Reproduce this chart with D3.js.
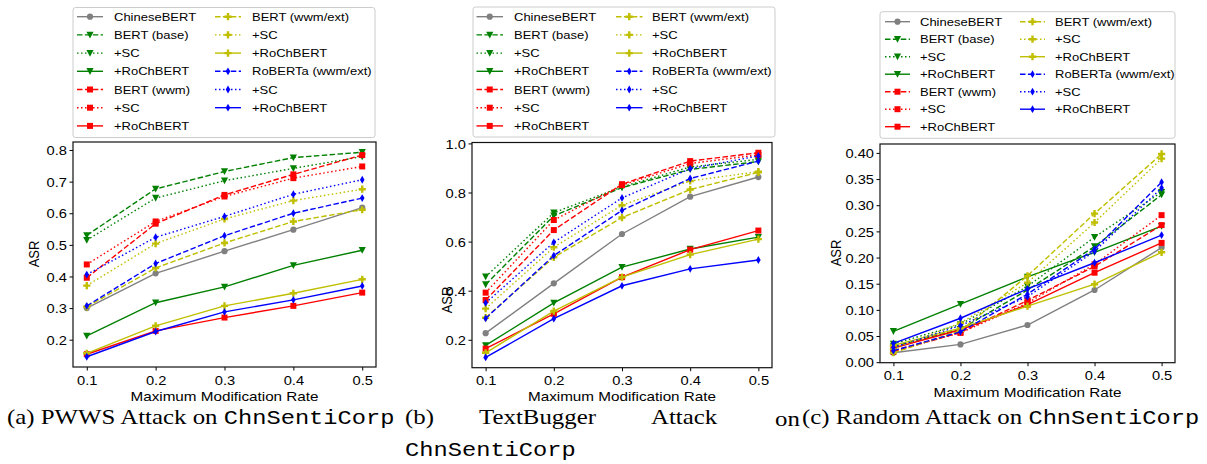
<!DOCTYPE html>
<html>
<head>
<meta charset="utf-8">
<script src="https://cdn.jsdelivr.net/npm/d3@7"></script>
<style>
  body { margin: 0; background: #fff; }
  svg { display: block; }
</style>
</head>
<body>
<svg id="chart" width="1207" height="464"></svg>
<script>
// modification rates on the x axis
var rates = [0.1, 0.2, 0.3, 0.4, 0.5];
var rateTicks = ["0.1", "0.2", "0.3", "0.4", "0.5"];

// legend entries, same order as the rows in the ASR arrays below
var seriesNames = ["ChineseBERT", "BERT (base)", "+SC", "+RoChBERT", "BERT (wwm)", "+SC", "+RoChBERT",
                   "BERT (wwm/ext)", "+SC", "+RoChBERT", "RoBERTa (wwm/ext)", "+SC", "+RoChBERT"];
var seriesColors = ["#808080", "#008000", "#008000", "#008000", "#ff0000", "#ff0000", "#ff0000",
                    "#bfbf00", "#bfbf00", "#bfbf00", "#0000ff", "#0000ff", "#0000ff"];
var seriesMarkers = ["o", "v", "v", "v", "s", "s", "s", "P", "P", "P", "d", "d", "d"];
var seriesDashes = ["solid", "dashed", "dotted", "solid", "dashed", "dotted", "solid",
                    "dashed", "dotted", "solid", "dashed", "dotted", "solid"];

// (a) PWWS attack
var pwwsASR = [
  [0.300, 0.410, 0.480, 0.548, 0.618],
  [0.530, 0.677, 0.732, 0.776, 0.793],
  [0.515, 0.648, 0.703, 0.742, 0.779],
  [0.212, 0.317, 0.367, 0.435, 0.483],
  [0.396, 0.567, 0.658, 0.723, 0.784],
  [0.438, 0.574, 0.653, 0.711, 0.748],
  [0.154, 0.228, 0.270, 0.307, 0.349],
  [0.304, 0.427, 0.506, 0.574, 0.611],
  [0.371, 0.504, 0.582, 0.640, 0.676],
  [0.157, 0.244, 0.307, 0.347, 0.391],
  [0.307, 0.441, 0.529, 0.600, 0.648],
  [0.406, 0.524, 0.590, 0.660, 0.706],
  [0.146, 0.226, 0.288, 0.326, 0.370]
];
var pwwsTicks = [0.2, 0.3, 0.4, 0.5, 0.6, 0.7, 0.8];

// (b) TextBugger attack
var textbuggerASR = [
  [0.227, 0.430, 0.631, 0.783, 0.863],
  [0.425, 0.705, 0.820, 0.894, 0.926],
  [0.457, 0.718, 0.823, 0.904, 0.935],
  [0.177, 0.350, 0.496, 0.570, 0.618],
  [0.362, 0.647, 0.834, 0.928, 0.962],
  [0.392, 0.688, 0.830, 0.918, 0.953],
  [0.164, 0.306, 0.455, 0.567, 0.645],
  [0.290, 0.536, 0.698, 0.812, 0.882],
  [0.327, 0.577, 0.748, 0.847, 0.885],
  [0.147, 0.317, 0.455, 0.547, 0.610],
  [0.287, 0.543, 0.727, 0.857, 0.928],
  [0.350, 0.597, 0.778, 0.897, 0.949],
  [0.128, 0.286, 0.420, 0.489, 0.525]
];
var textbuggerTicks = [0.2, 0.4, 0.6, 0.8, 1.0];

// (c) random attack
var randomASR = [
  [0.018, 0.034, 0.071, 0.138, 0.219],
  [0.030, 0.063, 0.138, 0.221, 0.320],
  [0.035, 0.072, 0.145, 0.239, 0.325],
  [0.059, 0.111, 0.163, 0.210, 0.260],
  [0.020, 0.057, 0.118, 0.183, 0.262],
  [0.022, 0.056, 0.113, 0.187, 0.281],
  [0.027, 0.062, 0.110, 0.171, 0.228],
  [0.018, 0.060, 0.165, 0.284, 0.398],
  [0.025, 0.075, 0.152, 0.267, 0.389],
  [0.032, 0.065, 0.107, 0.149, 0.210],
  [0.022, 0.058, 0.130, 0.216, 0.344],
  [0.028, 0.070, 0.125, 0.212, 0.333],
  [0.036, 0.084, 0.140, 0.190, 0.243]
];
var randomTicks = [0.00, 0.05, 0.10, 0.15, 0.20, 0.25, 0.30, 0.35, 0.40];

var SX = 1.13;  // the figure is a bit stretched sideways
var sans = "'Liberation Sans', Arial, sans-serif";

var panels = [
  {data: pwwsASR, ticks: pwwsTicks, fmt: ".1f", left: 73, right: 376, top: 142, bottom: 367,
   ylabX: 34, ylabY: 254, xlabY: 401,
   leg: {x: 73, w: 302, top: 7.5, h: 130, row0: 16.7, dy: 18.2, h0: 4, h1: 30, t0: 41, c2: 142, t2: 179}},
  {data: textbuggerASR, ticks: textbuggerTicks, fmt: ".1f", left: 472, right: 772, top: 142.5, bottom: 367.7,
   ylabX: 447, ylabY: 300, xlabY: 401,
   leg: {x: 473, w: 302, top: 7, h: 130, row0: 16.7, dy: 18.2, h0: 3.5, h1: 30, t0: 41, c2: 143, t2: 179}},
  {data: randomASR, ticks: randomTicks, fmt: ".2f", left: 880, right: 1175, top: 144, bottom: 362.7,
   ylabX: 836, ylabY: 253, xlabY: 397,
   leg: {x: 880, w: 295, top: 11.7, h: 126.6, row0: 21.7, dy: 17.5, h0: 5, h1: 30, t0: 40, c2: 140, t2: 175}}
];

var svg = d3.select("#chart");

function dashFor(style) {
  if (style == "dashed") return "5.5,2.4";
  if (style == "dotted") return "1.5,2.5";
  return null;
}

function markerPath(m) {
  if (m == "o") return d3.symbol(d3.symbolCircle, 30)();
  if (m == "s") return "M-3,-3H3V3H-3Z";
  if (m == "v") return "M0,3.6L-3.6,-3.2L3.6,-3.2Z";
  if (m == "P") return "M-1.2,-3.6H1.2V-1.2H3.6V1.2H1.2V3.6H-1.2V1.2H-3.6V-1.2H-1.2Z";
  if (m == "d") return "M0,-3.9L2.3,0L0,3.9L-2.3,0Z";
}

// place a text stretched by SX around its anchor point
function stretched(g, x, y, str) {
  return g.append("text")
      .attr("transform", "translate(" + x + "," + y + ") scale(" + SX + ",1)")
      .text(str);
}

panels.forEach(function(p) {
  var all = d3.merge(p.data);
  var lo = d3.min(all), hi = d3.max(all), pad = (hi - lo) * 0.05;

  var x = d3.scaleLinear().domain([0.08, 0.52]).range([p.left, p.right]);
  var y = d3.scaleLinear().domain([lo - pad, hi + pad]).range([p.bottom, p.top]);

  var g = svg.append("g");

  // lines and markers
  p.data.forEach(function(vals, i) {
    var pts = vals.map(function(v, j) { return [rates[j], v]; });
    var line = d3.line().x(function(d) { return x(d[0]); }).y(function(d) { return y(d[1]); });
    g.append("path")
        .attr("d", line(pts))
        .attr("fill", "none")
        .attr("stroke", seriesColors[i])
        .attr("stroke-width", 1.4)
        .attr("stroke-dasharray", dashFor(seriesDashes[i]));
    g.selectAll(null)
      .data(pts)
      .join("path")
        .attr("transform", function(d) { return "translate(" + x(d[0]) + "," + y(d[1]) + ")"; })
        .attr("d", markerPath(seriesMarkers[i]))
        .attr("fill", seriesColors[i]);
  });

  // axes
  var xa = g.append("g")
      .attr("transform", "translate(0," + p.bottom + ")")
      .call(d3.axisBottom(x).tickValues(rates).tickFormat(function(d, j) { return rateTicks[j]; })
            .tickSize(3.5).tickPadding(5));
  var ya = g.append("g")
      .attr("transform", "translate(" + p.left + ",0)")
      .call(d3.axisLeft(y).tickValues(p.ticks).tickFormat(d3.format(p.fmt)).tickSize(3.5).tickPadding(1.8));
  [xa, ya].forEach(function(a) {
    a.select(".domain").remove();
    a.selectAll("line").attr("stroke", "#000").attr("stroke-width", 1);
    a.selectAll("text")
        .attr("font-family", sans)
        .attr("font-size", 13)
        .attr("fill", "#000")
        .attr("transform", "scale(" + SX + ",1)");
  });
  ya.selectAll("text").attr("dy", "0.36em");

  g.append("rect")
      .attr("x", p.left).attr("y", p.top)
      .attr("width", p.right - p.left).attr("height", p.bottom - p.top)
      .attr("fill", "none").attr("stroke", "#111").attr("stroke-width", 1.2);

  stretched(g, (p.left + p.right) / 2, p.xlabY, "Maximum Modification Rate")
      .attr("text-anchor", "middle")
      .attr("font-family", sans)
      .attr("font-size", 13.5);

  g.append("text")
      .attr("transform", "translate(" + p.ylabX + "," + p.ylabY + ") rotate(-90) scale(1," + SX + ")")
      .attr("text-anchor", "middle")
      .attr("dy", "0.36em")
      .attr("font-family", sans)
      .attr("font-size", 13)
      .text("ASR");

  // legend, two columns filled top to bottom
  var L = p.leg;
  var lg = svg.append("g");
  lg.append("rect")
      .attr("x", L.x).attr("y", L.top).attr("width", L.w).attr("height", L.h)
      .attr("rx", 2.5)
      .attr("fill", "#fff").attr("fill-opacity", 0.8)
      .attr("stroke", "#cccccc").attr("stroke-width", 1);
  seriesNames.forEach(function(name, i) {
    var col = i < 7 ? 0 : 1, row = i < 7 ? i : i - 7;
    var ry = L.row0 + row * L.dy;
    var hx0 = L.x + (col ? L.c2 : L.h0), hx1 = hx0 + (L.h1 - L.h0);
    lg.append("line")
        .attr("x1", hx0).attr("x2", hx1).attr("y1", ry).attr("y2", ry)
        .attr("stroke", seriesColors[i]).attr("stroke-width", 1.4)
        .attr("stroke-dasharray", dashFor(seriesDashes[i]));
    lg.append("path")
        .attr("transform", "translate(" + ((hx0 + hx1) / 2) + "," + ry + ")")
        .attr("d", markerPath(seriesMarkers[i]))
        .attr("fill", seriesColors[i]);
    stretched(lg, L.x + (col ? L.t2 : L.t0), ry, name)
        .attr("dy", "0.36em")
        .attr("font-family", sans)
        .attr("font-size", 11.5);
  });
});

// captions
var serif = "'Liberation Serif', 'Times New Roman', serif";
var mono = "'Liberation Mono', 'Courier New', monospace";
var cap = svg.append("g").attr("font-size", 22).attr("font-family", serif).attr("fill", "#000");

function caption(x, y, parts) {
  var t = stretched(cap, x, y, null);
  parts.forEach(function(s) {
    t.append("tspan")
        .attr("font-family", s[1] ? mono : serif)
        .attr("font-size", s[1] ? 21 : 22)
        .text(s[0]);
  });
}
caption(7, 424, [["(a) PWWS Attack on ", 0], ["ChnSentiCorp", 1]]);
caption(405, 424, [["(b)", 0]]);
caption(479, 424, [["TextBugger", 0]]);
caption(651, 424, [["Attack", 0]]);
caption(775, 426, [["on", 0]]);
caption(405, 456, [["ChnSentiCorp", 1]]);
caption(802, 424, [["(c) Random Attack on ", 0], ["ChnSentiCorp", 1]]);
</script>
</body>
</html>
